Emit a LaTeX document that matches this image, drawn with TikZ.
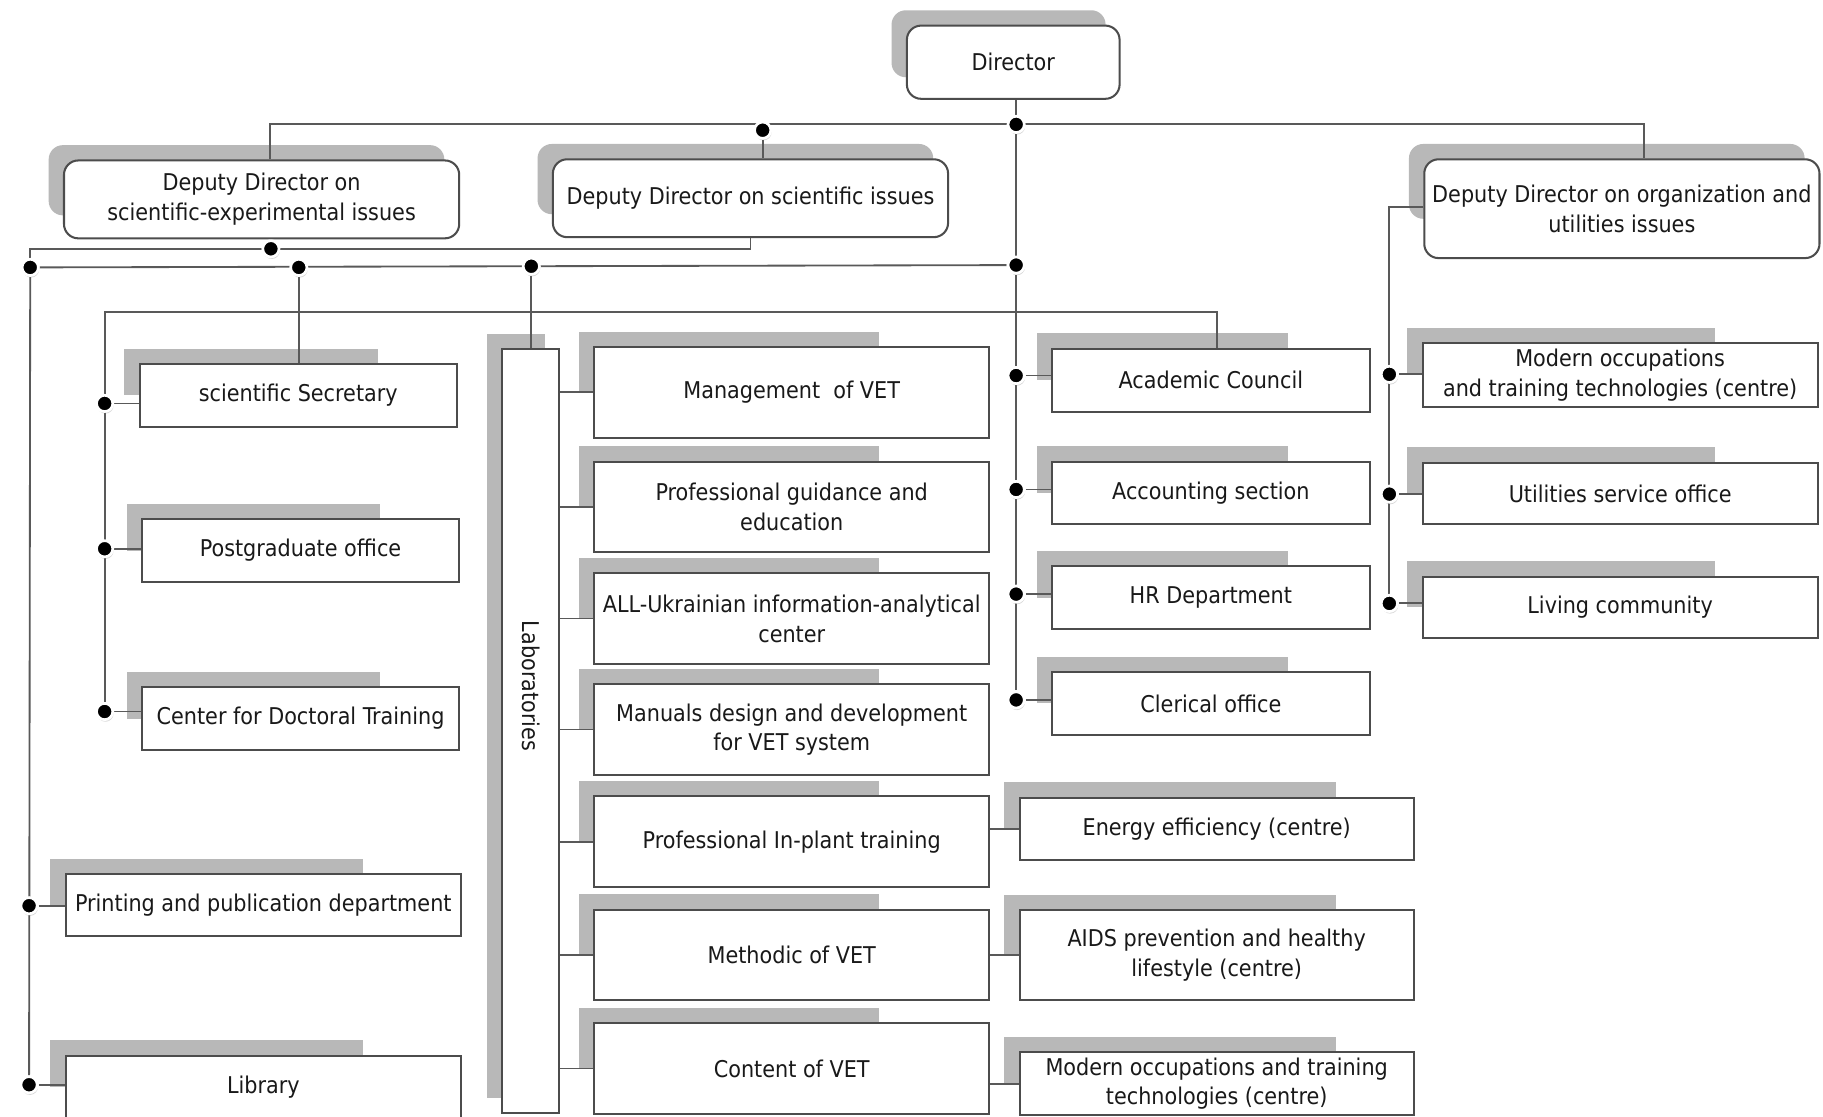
\documentclass[tikz,border=0pt]{standalone}
\usepackage{fontspec}
\setmainfont{DejaVu Sans Condensed}
\usetikzlibrary{calc,shadows}

\pgfdeclarelayer{shade}
\pgfdeclarelayer{wires}
\pgfsetlayers{shade,wires,main}

\begin{document}
\begin{tikzpicture}[x=0.02cm,y=-0.02cm,font=\fontsize{11.3}{14.6}\selectfont]
  \tikzstyle{every node}=[text=black!90]
  \tikzstyle{unit}=[draw=black!70,line width=1pt,fill=white,align=center,inner sep=1pt]
  \tikzstyle{chief}=[unit,rounded corners=7pt]
  \tikzstyle{wide}=[minimum width=6.8cm]
  \tikzstyle{small}=[minimum width=5.46cm,minimum height=1.08cm]
  \tikzstyle{labunit}=[unit,wide,minimum height=1.56cm]
  \tikzstyle{centre}=[unit,minimum width=6.78cm]
  \tikzstyle{dot}=[circle,fill=black,draw=white,line width=1.3pt,inner sep=0pt,minimum size=0.28cm,
                   drop shadow={opacity=0.3,shadow xshift=0.4pt,shadow yshift=-1pt}]
  \tikzstyle{link}=[draw=black!65,line width=0.9pt]

  \useasboundingbox (0,0) rectangle (1568,960);

  % heads
  \node[chief,minimum width=3.66cm,minimum height=1.26cm] (dir) at (871.5,53.5) {Director};
  \node[chief,wide,minimum height=1.34cm] (ddse) at (225,171.5) {Deputy Director on\\scientific-experimental issues};
  \node[chief,wide,minimum height=1.34cm] (dds)  at (645.5,170.5) {Deputy Director on scientific issues};
  \node[chief,wide,minimum height=1.7cm]  (ddo)  at (1395,179.5) {Deputy Director on organization and\\utilities issues};

  % left column
  \node[unit,small] (sec) at (256.5,340)   {scientific Secretary};
  \node[unit,small] (pgo) at (258.5,473.5) {Postgraduate office};
  \node[unit,small] (cdt) at (258.5,618)   {Center for Doctoral Training};
  \node[unit,wide,minimum height=1.06cm] (ppd) at (226.5,778.5) {Printing and publication department};
  \node[unit,wide,minimum height=1.08cm] (lib) at (226.5,935)   {Library};

  % laboratories
  \node[unit,minimum width=0.98cm,minimum height=13.14cm] (lab) at (456.5,628.5) {};
  \node[rotate=-90] (labtext) at (457,590) {Laboratories};
  \node[labunit] (mgt)  at (681,337.5) {Management ~of VET};
  \node[labunit] (pge)  at (681,436)   {Professional guidance and\\education};
  \node[labunit] (uic)  at (681,532)   {ALL-Ukrainian information-analytical\\center};
  \node[labunit] (mdd)  at (681,627.5) {Manuals design and development\\for VET system};
  \node[labunit] (pit)  at (681,724)   {Professional In-plant training};
  \node[labunit] (mvet) at (681,821.5) {Methodic of VET};
  \node[labunit] (cvet) at (681,919)   {Content of VET};

  % centres
  \node[centre,minimum height=1.08cm] (een)  at (1046.5,713)   {Energy efficiency (centre)};
  \node[centre,minimum height=1.54cm] (aids) at (1046.5,821.5) {AIDS prevention and healthy\\lifestyle (centre)};
  \node[centre,minimum height=1.08cm] (moc)  at (1046.5,932)   {Modern occupations and training\\technologies (centre)};

  % offices
  \node[unit,small] (ac)  at (1041.5,327) {Academic Council};
  \node[unit,small] (acc) at (1041.5,424) {Accounting section};
  \node[unit,small] (hr)  at (1041.5,514) {HR Department};
  \node[unit,small] (clo) at (1041.5,605) {Clerical office};

  % right column
  \node[unit,wide,minimum height=1.1cm]  (mot) at (1393.5,322.5) {Modern occupations\\and training technologies (centre)};
  \node[unit,wide,minimum height=1.06cm] (uso) at (1393.5,424.5) {Utilities service office};
  \node[unit,wide,minimum height=1.06cm] (lc)  at (1393.5,522.5) {Living community};

  % junctions
  \coordinate (t1) at (232,107);
  \coordinate (t2) at (1414,107);
  \coordinate (b1) at (90,268);
  \coordinate (b2) at (1047,268);
  \coordinate (r0) at (1195,178);
  \node[dot] (d0) at (874,107) {};
  \node[dot] (d1) at (656,112) {};
  \node[dot] (d2) at (233,214) {};
  \node[dot] (d3) at (26,230) {};
  \node[dot] (d5) at (257,230) {};
  \node[dot] (d6) at (457,229) {};
  \node[dot] (d4) at (874,228) {};
  \node[dot] (s1) at (90,347) {};
  \node[dot] (s2) at (90,472) {};
  \node[dot] (s3) at (90,612) {};
  \node[dot] (p1) at (25,779) {};
  \node[dot] (p2) at (25,933) {};
  \node[dot] (m1) at (874,323) {};
  \node[dot] (m2) at (874,421) {};
  \node[dot] (m3) at (874,511) {};
  \node[dot] (m4) at (874,602) {};
  \node[dot] (r1) at (1195,322) {};
  \node[dot] (r2) at (1195,425) {};
  \node[dot] (r3) at (1195,519) {};

  \begin{pgfonlayer}{wires}
    \draw[link] (t1 |- ddse.north) -- (t1) -- (t2) -- (t2 |- ddo.north);
    \draw[link] (d0 |- dir.south) -- (d0);
    \draw[link] (d1) -- (d1 |- dds.north);
    \draw[link] (d0) -- (d4) -- (m4);
    \draw[link] (d2 |- ddse.south) -- (d2);
    \draw[link] (dds.south) |- (d3 |- d2) -- (d3);
    \draw[link] (d3) -- (d4);
    \draw[link] (d3) -- (p2);
    \draw[link] (d5) -- (d5 |- sec.north);
    \draw[link] (d6) -- (d6 |- lab.north);
    \draw[link] (s3) -- (b1) -- (b2) -- (b2 |- ac.north);
    \draw[link] (s1) -- (s1 -| sec.west);
    \draw[link] (s2) -- (s2 -| pgo.west);
    \draw[link] (s3) -- (s3 -| cdt.west);
    \draw[link] (p1) -- (p1 -| ppd.west);
    \draw[link] (p2) -- (p2 -| lib.west);
    \draw[link] (m1) -- (m1 -| ac.west);
    \draw[link] (m2) -- (m2 -| acc.west);
    \draw[link] (m3) -- (m3 -| hr.west);
    \draw[link] (m4) -- (m4 -| clo.west);
    \draw[link] (ddo.west |- r0) -- (r0) -- (r3);
    \draw[link] (r1) -- (r1 -| mot.west);
    \draw[link] (r2) -- (r2 -| uso.west);
    \draw[link] (r3) -- (r3 -| lc.west);
    \foreach \b in {mgt,pge,uic,mdd,pit,mvet,cvet}
      \draw[link] (lab.east |- \b) -- (\b.west);
    \draw[link] (pit.east |- een) -- (een.west);
    \draw[link] (mvet.east |- aids) -- (aids.west);
    \draw[link] (cvet.east |- moc) -- (moc.west);
  \end{pgfonlayer}

  \begin{pgfonlayer}{shade}
    \fill[white] (0,0) rectangle (1568,960);
    \foreach \b/\f/\g in {dir/0.93/0.7,ddse/0.96/0.7,dds/0.96/0.7,ddo/0.96/0.6}
      \path[fill=black!28,rounded corners=7pt] let \p1=(\b.north west), \p2=(\b.south east) in
        (\x1-7pt,\y1+7pt) rectangle ({\x1+\f*(\x2-\x1)},{\y1+\g*(\y2-\y1)});
    \foreach \b/\f/\g in {sec/0.75/0.5,pgo/0.75/0.5,cdt/0.75/0.5,ppd/0.75/0.5,lib/0.75/0.5,
        lab/0.75/0.98,mgt/0.72/0.5,pge/0.72/0.5,uic/0.72/0.5,mdd/0.72/0.5,pit/0.72/0.5,
        mvet/0.72/0.5,cvet/0.72/0.5,een/0.8/0.5,aids/0.8/0.5,moc/0.8/0.5,
        ac/0.74/0.5,acc/0.74/0.5,hr/0.74/0.5,clo/0.74/0.5,mot/0.74/0.5,uso/0.74/0.5,lc/0.74/0.5}
      \path[fill=black!28] let \p1=(\b.north west), \p2=(\b.south east) in
        (\x1-7pt,\y1+7pt) rectangle ({\x1+\f*(\x2-\x1)},{\y1+\g*(\y2-\y1)});
  \end{pgfonlayer}
\end{tikzpicture}
\end{document}
